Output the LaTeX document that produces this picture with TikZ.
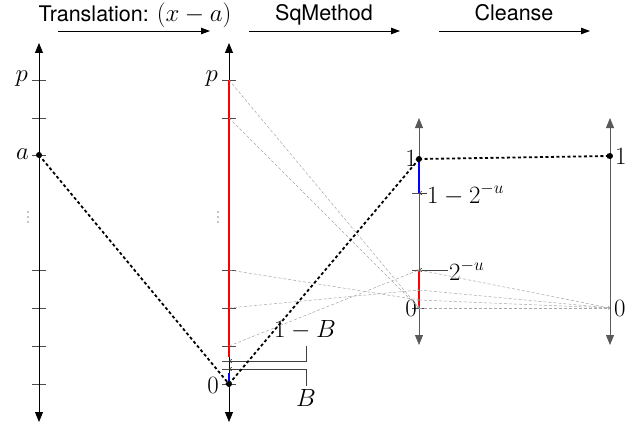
\documentclass[tikz,border=0pt]{standalone}
\usepackage{fontspec}
\setsansfont{TeX Gyre Heros}
\usetikzlibrary{arrows.meta}
\begin{document}
\begin{tikzpicture}[x=1pt,y=-1pt,
  axisline/.style={line width=0.8pt,{Triangle[length=10pt,width=8pt]}-{Triangle[length=10pt,width=8pt]}},
  tickmark/.style={line width=0.8pt,black!70},
  toparrow/.style={line width=0.8pt,-{Triangle[length=9pt,width=6.5pt]}},
  toplabel/.style={font=\sffamily\fontsize{21.5}{25}\selectfont,anchor=base,inner sep=0pt},
  mlabel/.style={font=\fontsize{26}{30}\selectfont,inner sep=0pt},
  mapdot/.style={line width=1.8pt,dash pattern=on 3pt off 2.5pt,-{To[length=3pt,width=5pt]}},
  greymap/.style={line width=0.5pt,black!35,dash pattern=on 3pt off 2pt,-{To[length=2pt,width=3pt]}},
  lblarrow/.style={line width=0.7pt,black!75,-{To[length=3pt,width=4pt]}},
  redseg/.style={line width=2pt,red},
  blueseg/.style={line width=2pt,blue}
]
\useasboundingbox (0,0) rectangle (639,425);

% ---- top labels and arrows
\node[toplabel] (tr) at (135,22) {Translation: {\fontsize{23}{26}\selectfont$(x-a)$}};
\coordinate (tr1) at (58,31); \coordinate (tr2) at (210,31);
\draw[toparrow] (tr1) -- (tr2);
\node[toplabel] (sq) at (324,21) {SqMethod};
\coordinate (sq1) at (249,31); \coordinate (sq2) at (400,31);
\draw[toparrow] (sq1) -- (sq2);
\node[toplabel] (cl) at (514,21) {Cleanse};
\coordinate (cl1) at (439,31); \coordinate (cl2) at (590,31);
\draw[toparrow] (cl1) -- (cl2);

% ---- axis 1
\coordinate (a1top) at (39,43); \coordinate (a1bot) at (39,422);
\foreach \y in {80,118,155,270,308,346,384} \draw[tickmark] (32,\y) -- (46,\y);
\draw[axisline] (a1bot) -- (a1top);
\node[mlabel,anchor=east] (lp1) at (28,79) {$p$};
\node[mlabel,anchor=east] (la1) at (29,154) {$a$};
\foreach \y in {212,217,222} \fill (28,\y) circle (0.55pt);
\coordinate (pa) at (39,155);

% ---- axis 2
\coordinate (a2top) at (229,43); \coordinate (a2bot) at (229,422);
\foreach \y in {80,118,270,308,346,384} \draw[tickmark] (222,\y) -- (236,\y);
\draw[tickmark] (222,361) -- (236,361);
\draw[tickmark] (222,369) -- (236,369);
\draw[axisline] (a2bot) -- (a2top);
\coordinate (r2a) at (229,80); \coordinate (r2b) at (229,357);
\draw[redseg] (r2a) -- (r2b);
\coordinate (b2a) at (229,373); \coordinate (b2b) at (229,384);
\draw[blueseg] (b2a) -- (b2b);
\node[mlabel,anchor=east] (lp2) at (218,79) {$p$};
\node[mlabel,anchor=east] (l02) at (219,385) {$0$};
\foreach \y in {212,217,222} \fill (218,\y) circle (0.55pt);
\coordinate (z2) at (229,384);

% brackets 1-B and B
\coordinate (t361) at (229,361); \coordinate (c361) at (306,346);
\draw[lblarrow] (c361) |- (t361);
\node[mlabel] (l1b) at (305,330) {$1-B$};
\coordinate (t369) at (229,369); \coordinate (c369) at (306,386);
\draw[lblarrow] (c369) |- (t369);
\node[mlabel] (lb) at (306,398) {$B$};

% ---- axis 3
\coordinate (a3top) at (419,118); \coordinate (a3bot) at (419,345);
\draw[axisline,black!65] (a3bot) -- (a3top);
\coordinate (o3) at (419,159); \coordinate (u3) at (419,193);
\coordinate (w3) at (419,270); \coordinate (z3) at (419,308);
\draw[tickmark] (412,308) -- (426,308);
\draw[blueseg] (o3) -- (u3);
\draw[redseg] (w3) -- (z3);
\node[mlabel,anchor=east] (l13) at (417,158) {$1$};
\node[mlabel,anchor=east] (l03) at (417,308) {$0$};
\node[mlabel,anchor=base west] (l1u) at (427,203) {$1-2^{-u}$};
\coordinate (s1u) at (412,193); \coordinate (e1u) at (427,193);
\draw[tickmark] (s1u) -- (e1u);
\draw[lblarrow] (e1u) -- (u3);
\node[mlabel,anchor=base west] (l2u) at (449,280) {$2^{-u}$};
\coordinate (s2u) at (412,270); \coordinate (e2u) at (448,270);
\draw[tickmark] (s2u) -- (e2u);
\draw[lblarrow] (e2u) -- (w3);

% ---- axis 4
\coordinate (a4top) at (610,118); \coordinate (a4bot) at (610,345);
\draw[axisline,black!65] (a4bot) -- (a4top);
\coordinate (o4) at (610,156); \coordinate (z4) at (610,308);
\node[mlabel,anchor=west] (l14) at (615,156) {$1$};
\node[mlabel,anchor=west] (l04) at (614,308) {$0$};

% ---- grey mapping lines
\coordinate (g2a) at (229,80); \coordinate (g2b) at (229,118);
\coordinate (g2c) at (229,270); \coordinate (g2d) at (229,308);
\coordinate (g2e) at (229,346);
\coordinate (g3a) at (419,300); \coordinate (g3b) at (419,290);
\draw[greymap] (g2a) -- (z3);
\draw[greymap] (g2b) -- (z3);
\draw[greymap] (g2c) -- (g3a);
\draw[greymap] (g2d) -- (g3b);
\draw[greymap] (g2e) -- (w3);
\draw[greymap] (g3a) -- (z4);
\draw[greymap] (g3b) -- (z4);
\draw[greymap] (w3) -- (z4);
\draw[greymap] (z3) -- (z4);

% ---- black dotted mapping of a
\draw[mapdot] (pa) -- (z2);
\draw[mapdot] (z2) -- (o3);
\draw[mapdot] (o3) -- (o4);
\fill (pa) circle (3pt);
\fill (z2) circle (3pt);
\fill (o3) circle (3pt);
\fill (o4) circle (3pt);
\end{tikzpicture}
\end{document}
